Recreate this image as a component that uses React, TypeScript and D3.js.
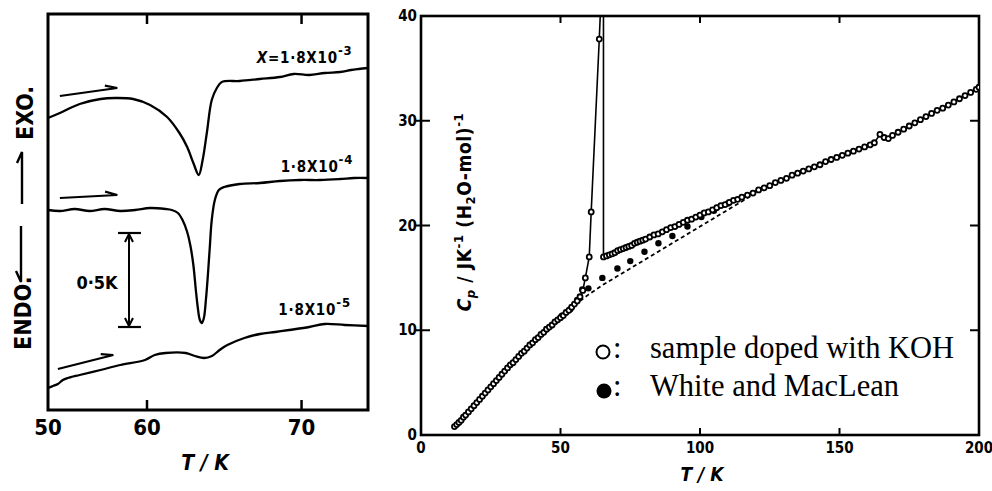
import React from "react";
import * as d3 from "d3";

// ---- left panel: DTA traces (signal in arbitrary units) ----
const trace1T = [50.0, 51.2, 53.2, 55.3, 56.8, 58.6, 60.2, 61.3, 62.1, 62.6, 63.0, 63.35, 63.6, 63.87, 64.19, 64.52, 64.84, 66.0, 67.3, 68.6, 69.5, 70.5, 71.5, 72.5, 73.2, 73.7, 74.3];
const trace1S = [29.2, 29.7, 30.6, 31.1, 31.2, 31.1, 30.5, 29.3, 27.7, 26.3, 24.7, 23.5, 25.0, 27.7, 31.0, 32.2, 32.8, 32.9, 33.1, 33.3, 33.6, 33.5, 33.7, 33.8, 34.0, 34.1, 34.2];
const trace2T = [50.0, 51.2, 52.7, 54.2, 55.7, 57.3, 58.8, 60.2, 61.2, 61.6, 62.0, 62.3, 62.6, 62.8, 63.0, 63.16, 63.29, 63.42, 63.55, 63.68, 63.81, 63.94, 64.06, 64.19, 64.39, 64.65, 65.0, 66.0, 67.3, 68.6, 69.9, 71.2, 72.5, 73.4, 74.3];
const trace2S = [20.0, 19.9, 20.1, 19.9, 20.1, 19.9, 20.0, 20.2, 20.1, 20.0, 19.7, 19.0, 17.8, 16.5, 14.5, 12.0, 10.2, 9.0, 8.7, 9.2, 11.0, 13.5, 16.2, 19.0, 21.0, 22.0, 22.3, 22.6, 22.7, 22.9, 23.0, 23.0, 23.1, 23.2, 23.2];
const trace3T = [50.0, 50.5, 51.0, 51.5, 52.0, 53.2, 55.3, 57.3, 59.8, 60.5, 61.2, 62.5, 63.1, 63.7, 64.2, 64.7, 65.2, 66.3, 67.3, 68.3, 69.2, 70.5, 71.5, 72.8, 74.3];
const trace3S = [2.2, 2.4, 2.6, 3.0, 3.2, 3.5, 4.0, 4.5, 5.0, 5.5, 5.7, 5.7, 5.4, 5.2, 5.4, 6.0, 6.5, 7.2, 7.6, 7.8, 8.0, 8.3, 8.6, 8.5, 8.4];

const traceExp = ["-3", "-4", "-5"];
const traceLabelT = [67.1, 68.65, 68.5];
const traceLabelS = [34.7, 23.8, 9.5];
const arrowT0 = [51.2, 51.2, 51.0];
const arrowS0 = [31.4, 21.2, 4.1];
const arrowT1 = [57.0, 57.0, 56.6];
const arrowS1 = [32.2, 21.5, 5.5];
const leftTicks = [50, 60, 70];

// ---- right panel: heat capacity ----
const dopedT = [12.0, 12.8, 13.6, 14.4, 15.2, 16.0, 17.0, 18.0, 19.0, 20.0, 21.0, 22.0, 23.0, 24.0, 25.0, 26.0, 27.0, 28.0, 29.0, 30.0, 31.0, 32.0, 33.0, 34.0, 35.0, 36.0, 37.0, 38.0, 39.0, 40.0, 41.0, 42.0, 43.0, 44.0, 45.0, 46.0, 47.0, 48.0, 49.0, 50.0, 51.0, 52.0, 53.0, 54.0, 55.0, 56.0, 57.0, 58.0, 58.9, 60.3, 61.0, 63.9,
  65.4, 66.5, 67.5, 68.5, 69.5, 70.5, 71.5, 72.5, 73.5, 74.5, 75.5, 76.5, 77.5, 78.5, 79.5, 80.5, 82, 83.5, 85, 86.5, 88, 89.5, 91, 92.5, 94, 95.5, 97, 98.5, 100, 101.5, 103, 104.5, 106, 107.5, 109, 110.5, 112, 113.5, 115, 117, 119, 121, 123, 125, 127, 129, 131, 133, 135, 137, 139, 141, 143, 145, 147, 149, 151, 153, 155, 157, 159, 161, 162.5, 164.5, 166, 167.5, 169, 171, 173, 175, 177, 179, 181, 183, 185, 187, 189, 191, 193, 195, 197, 199, 200];
const dopedCp = [0.8, 1.0, 1.2, 1.4, 1.7, 1.9, 2.2, 2.5, 2.8, 3.1, 3.4, 3.7, 4.0, 4.3, 4.6, 4.9, 5.2, 5.5, 5.8, 6.1, 6.4, 6.7, 6.9, 7.2, 7.5, 7.8, 8.0, 8.3, 8.6, 8.8, 9.1, 9.3, 9.6, 9.8, 10.1, 10.3, 10.5, 10.8, 11.0, 11.2, 11.4, 11.7, 11.9, 12.2, 12.5, 12.8, 13.2, 13.8, 15.0, 17.0, 21.3, 37.8,
  17.0, 17.1, 17.2, 17.3, 17.4, 17.6, 17.7, 17.8, 17.9, 18.0, 18.1, 18.3, 18.4, 18.5, 18.6, 18.7, 18.9, 19.1, 19.2, 19.4, 19.6, 19.8, 19.9, 20.1, 20.3, 20.5, 20.6, 20.8, 21.0, 21.2, 21.3, 21.5, 21.7, 21.9, 22.0, 22.2, 22.4, 22.5, 22.7, 22.9, 23.1, 23.4, 23.6, 23.8, 24.1, 24.3, 24.5, 24.8, 25.0, 25.2, 25.4, 25.6, 25.8, 26.1, 26.3, 26.5, 26.7, 26.9, 27.1, 27.3, 27.5, 27.7, 27.9, 28.7, 28.4, 28.3, 28.6, 28.9, 29.2, 29.5, 29.8, 30.1, 30.4, 30.7, 31.0, 31.2, 31.5, 31.8, 32.1, 32.4, 32.7, 33.0, 33.2];
// peak top and drop of the drawn line
const peakT = [64.4, 65.4];
const peakCp = [41, 41];

const wmT = [45.0, 50.5, 53.5, 56.0, 57.8, 60.0, 65.0, 70.4, 75.0, 80.1, 85.1, 90.1, 95.5, 100.5, 105, 110];
const wmCp = [10.1, 11.4, 12.0, 12.9, 13.9, 14.0, 15.0, 15.9, 16.6, 17.5, 18.3, 19.0, 19.9, 20.8, 21.4, 22.1];

const baseT = [55, 60, 65, 70, 75, 80, 85, 90, 95, 100, 105, 110, 115, 118];
const baseCp = [12.4, 13.4, 14.3, 15.1, 15.9, 16.7, 17.5, 18.3, 19.1, 19.9, 20.7, 21.5, 22.3, 22.8];

const xTicks = [0, 50, 100, 150, 200];
const yTicks = [0, 10, 20, 30, 40];
const legendLabels = ["sample doped with KOH", "White and MacLean"];

const SANS = "'DejaVu Sans Condensed', 'DejaVu Sans', sans-serif";
const SERIF = "'Liberation Serif', 'Times New Roman', serif";

const zip = (a: number[], b: number[]) => a.map((v, i) => [v, b[i]] as [number, number]);

function harpoon(x1: number, y1: number, x2: number, y2: number, len = 12, w = 4) {
  const dx = x2 - x1, dy = y2 - y1;
  const l = Math.hypot(dx, dy);
  const ux = dx / l, uy = dy / l;
  const nx = uy, ny = -ux;
  return `M${x1},${y1}L${x2},${y2}L${x2 - len * ux + w * nx},${y2 - len * uy + w * ny}`;
}

export default function App() {
  // left scales
  const lx = d3.scaleLinear().domain([50, 60, 74.3]).range([48, 147, 368]);
  const ly = d3.scaleLinear().domain([0, 39.6]).range([410, 14]);
  const lline = d3.line<[number, number]>().x(d => lx(d[0])).y(d => ly(d[1])).curve(d3.curveCatmullRom.alpha(0.5));
  const traces = [zip(trace1T, trace1S), zip(trace2T, trace2S), zip(trace3T, trace3S)];

  // right scales
  const rx = d3.scaleLinear().domain([0, 200]).range([421, 979]);
  const ry = d3.scaleLinear().domain([0, 40]).range([435, 16]);
  const rline = d3.line<[number, number]>().x(d => rx(d[0])).y(d => ry(d[1]));

  const doped = zip(dopedT, dopedCp);
  const iPeak = dopedT.indexOf(63.9);
  const linePts = [...doped.slice(0, iPeak + 1), ...zip(peakT, peakCp), ...doped.slice(iPeak + 1)];
  const wm = zip(wmT, wmCp);
  const base = zip(baseT, baseCp);

  const barX = lx(58.18), barTop = ly(17.7), barBot = ly(8.3);

  return (
    <svg width={992} height={491} style={{ position: "absolute", left: 0, top: 0, background: "#fff" }}
      fontFamily={SANS} fontWeight="bold">
      <defs>
        <clipPath id="rclip"><rect x={421} y={16} width={558} height={419} /></clipPath>
      </defs>

      {/* ---------- LEFT PANEL ---------- */}
      <rect x={48} y={14} width={320} height={396} fill="none" stroke="#000" strokeWidth={3} />
      {leftTicks.slice(1).map(t => (
        <g key={t}>
          <line x1={lx(t)} x2={lx(t)} y1={14} y2={24} stroke="#000" strokeWidth={2.5} />
          <line x1={lx(t)} x2={lx(t)} y1={410} y2={400} stroke="#000" strokeWidth={2.5} />
        </g>
      ))}
      {leftTicks.map(t => (
        <text key={t} x={lx(t)} y={435} fontSize={22} textAnchor="middle">{t}</text>
      ))}
      <text x={205} y={470} fontSize={21} textAnchor="middle" fontStyle="italic">T / K</text>

      {traces.map((tr, i) => (
        <path key={i} d={lline(tr) || ""} fill="none" stroke="#000" strokeWidth={2.3} strokeLinejoin="round" />
      ))}
      {arrowT0.map((t, i) => (
        <path key={i} d={harpoon(lx(t), ly(arrowS0[i]), lx(arrowT1[i]), ly(arrowS1[i]))}
          fill="none" stroke="#000" strokeWidth={2.2} />
      ))}
      {traceExp.map((e, i) => (
        <text key={i} x={lx(traceLabelT[i])} y={ly(traceLabelS[i])} fontSize={15} letterSpacing={0.8}>
          {i === 0 && <tspan fontStyle="italic">X</tspan>}
          {i === 0 ? "=1·8X10" : "1·8X10"}
          <tspan dy={-8} fontSize={13}>{e}</tspan>
        </text>
      ))}

      {/* scale bar */}
      <line x1={barX} x2={barX} y1={barTop} y2={barBot} stroke="#000" strokeWidth={2} />
      <line x1={lx(57.07)} x2={lx(59.39)} y1={barTop} y2={barTop} stroke="#000" strokeWidth={2.2} />
      <line x1={lx(57.07)} x2={lx(59.39)} y1={barBot} y2={barBot} stroke="#000" strokeWidth={2.2} />
      <path d={`M${barX - 4},${barTop + 9}L${barX},${barTop + 1}L${barX + 4},${barTop + 9}`} fill="none" stroke="#000" strokeWidth={2} />
      <path d={`M${barX - 4},${barBot - 9}L${barX},${barBot - 1}L${barX + 4},${barBot - 9}`} fill="none" stroke="#000" strokeWidth={2} />
      <text x={lx(54.95)} y={ly(12.1)} fontSize={18} textAnchor="middle">0·5K</text>

      {/* EXO / ENDO label */}
      <text transform="translate(31,350) rotate(-90)" fontSize={23}>ENDO.</text>
      <path d={harpoon(21, 226, 21, 282, 11, -5)} fill="none" stroke="#000" strokeWidth={2.4} />
      <path d={harpoon(22, 204, 22, 152, 11, 5)} fill="none" stroke="#000" strokeWidth={2.4} />
      <text transform="translate(33,140) rotate(-90)" fontSize={23}>EXO.</text>

      {/* ---------- RIGHT PANEL ---------- */}
      <rect x={421} y={16} width={558} height={419} fill="none" stroke="#000" strokeWidth={2.6} />
      {xTicks.slice(1, -1).map(t => (
        <g key={t}>
          <line x1={rx(t)} x2={rx(t)} y1={435} y2={428} stroke="#000" strokeWidth={2} />
          <line x1={rx(t)} x2={rx(t)} y1={16} y2={23} stroke="#000" strokeWidth={2} />
        </g>
      ))}
      {xTicks.map(t => (
        <text key={t} x={rx(t)} y={453} fontSize={15} textAnchor="middle">{t}</text>
      ))}
      {yTicks.slice(1, -1).map(t => (
        <g key={t}>
          <line x1={416} x2={430} y1={ry(t)} y2={ry(t)} stroke="#000" strokeWidth={2} />
          <line x1={970} x2={979} y1={ry(t)} y2={ry(t)} stroke="#000" strokeWidth={2} />
        </g>
      ))}
      {yTicks.map(t => (
        <text key={t} x={417} y={ry(t) + 5} fontSize={15} textAnchor="end">{t}</text>
      ))}
      <text x={702} y={481} fontSize={19} textAnchor="middle" fontStyle="italic">T / K</text>
      <text transform="translate(471,212) rotate(-90)" fontSize={19} textAnchor="middle" letterSpacing={0.6}>
        <tspan fontStyle="italic">C</tspan>
        <tspan dy={4} fontSize={13} fontStyle="italic">p</tspan>
        <tspan dy={-4}> / JK</tspan>
        <tspan dy={-8} fontSize={13}>-1</tspan>
        <tspan dy={8}> (H</tspan>
        <tspan dy={4} fontSize={13}>2</tspan>
        <tspan dy={-4}>O-mol)</tspan>
        <tspan dy={-8} fontSize={13}>-1</tspan>
      </text>

      <g clipPath="url(#rclip)">
        <path d={rline(base) || ""} fill="none" stroke="#000" strokeWidth={1.8} strokeDasharray="4,3" />
        <path d={rline(linePts) || ""} fill="none" stroke="#000" strokeWidth={1.6} />
        {wm.map((d, i) => (
          <circle key={"w" + i} cx={rx(d[0])} cy={ry(d[1])} r={3.2} fill="#000" />
        ))}
        {doped.map((d, i) => (
          <circle key={"d" + i} cx={rx(d[0])} cy={ry(d[1])} r={2.5} fill="#fff" stroke="#000" strokeWidth={1.8} />
        ))}
      </g>

      {/* legend */}
      <circle cx={603} cy={352} r={6.5} fill="#fff" stroke="#000" strokeWidth={2} />
      <circle cx={604} cy={391} r={7.5} fill="#000" />
      {legendLabels.map((l, i) => (
        <g key={l} fontFamily={SERIF} fontWeight="normal" fontSize={30.5}>
          <text x={613} y={358 + i * 38}>:</text>
          <text x={650} y={358 + i * 38}>{l}</text>
        </g>
      ))}
    </svg>
  );
}
